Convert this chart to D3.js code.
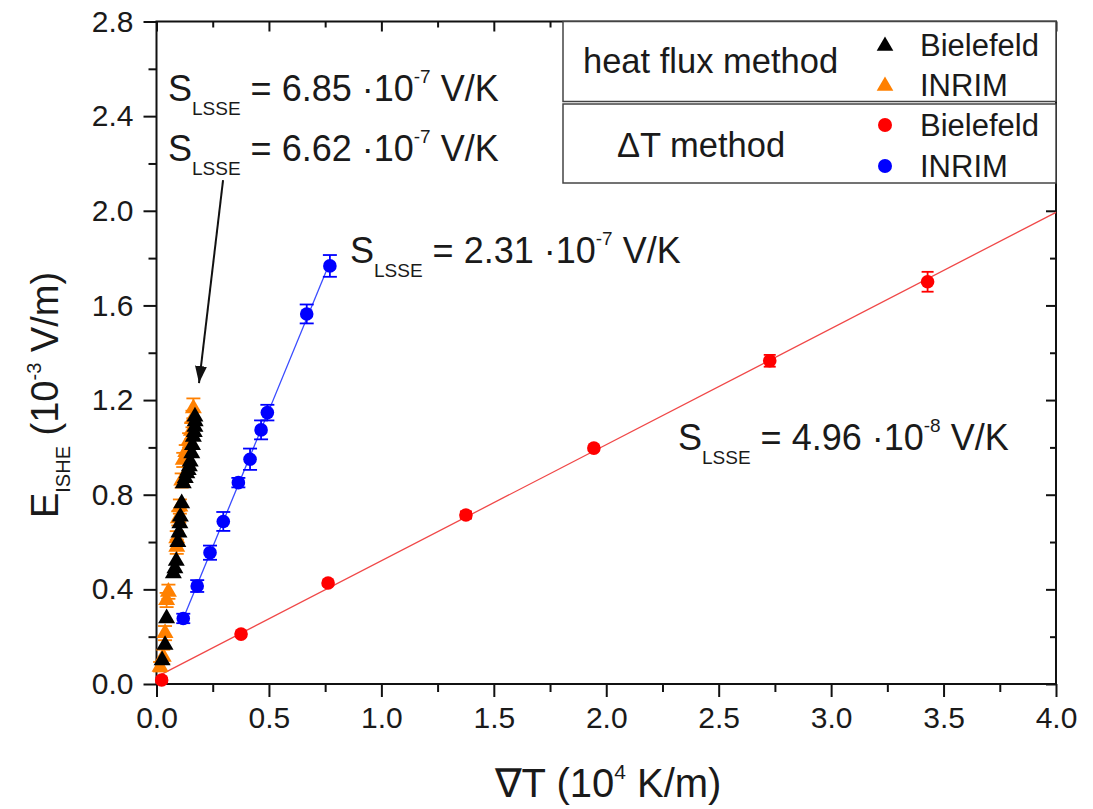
<!DOCTYPE html>
<html>
<head>
<meta charset="utf-8">
<script src="https://cdn.jsdelivr.net/npm/d3@7"></script>
<style>
  body { margin: 0; background: #fff; }
  text { font-family: "Liberation Sans", Arial, sans-serif; fill: #1a1a1a; }
</style>
</head>
<body>
<div id="main"></div>
<script>
// values
// heat flux method, Bielefeld (black triangles)
const hfBieX = [0.025, 0.038, 0.045, 0.075, 0.082, 0.088, 0.095, 0.100, 0.104, 0.106, 0.112, 0.119, 0.128, 0.135, 0.141, 0.146, 0.150, 0.157, 0.160, 0.164, 0.168, 0.171, 0.172, 0.171];
const hfBieY = [0.100, 0.165, 0.278, 0.468, 0.489, 0.520, 0.600, 0.640, 0.679, 0.707, 0.764, 0.848, 0.870, 0.890, 0.904, 0.920, 0.940, 0.975, 1.010, 1.045, 1.065, 1.087, 1.110, 1.130];
// heat flux method, INRIM (orange triangles)
const hfInrX = [0.016, 0.030, 0.038, 0.045, 0.053, 0.090, 0.090, 0.097, 0.104, 0.112, 0.119, 0.130, 0.145, 0.155, 0.160, 0.164];
const hfInrY = [0.073, 0.115, 0.215, 0.355, 0.390, 0.580, 0.616, 0.700, 0.750, 0.860, 0.947, 0.980, 1.030, 1.070, 1.120, 1.165];
const hfInrE = [0.02, 0.03, 0.03, 0.03, 0.03, 0.03, 0.03, 0.03, 0.03, 0.03, 0.03, 0.03, 0.03, 0.035, 0.035, 0.042];
// delta T method, Bielefeld (red)
const dtBieX = [0.023, 0.376, 0.763, 1.376, 1.945, 2.727, 3.429];
const dtBieY = [0.017, 0.211, 0.427, 0.714, 0.997, 1.366, 1.700];
const dtBieE = [0.01, 0.01, 0.01, 0.015, 0.01, 0.025, 0.042];
// delta T method, INRIM (blue)
const dtInrX = [0.119, 0.181, 0.238, 0.297, 0.364, 0.416, 0.465, 0.493, 0.668, 0.771];
const dtInrY = [0.277, 0.414, 0.555, 0.687, 0.851, 0.950, 1.074, 1.147, 1.564, 1.767];
const dtInrE = [0.02, 0.025, 0.03, 0.04, 0.02, 0.045, 0.04, 0.033, 0.04, 0.046];

const xTicks = [0, 0.5, 1.0, 1.5, 2.0, 2.5, 3.0, 3.5, 4.0];
const yTicks = [0, 0.4, 0.8, 1.2, 1.6, 2.0, 2.4, 2.8];

// size of the picture and the plot frame
const width = 1093;
const height = 809;
const pLeft = 156.5, pRight = 1056, pTop = 21.5, pBottom = 684;

const svg = d3.select('#main')
              .append('svg')
              .attr('width', width)
              .attr('height', height);

const x = d3.scaleLinear().domain([0, 4]).range([pLeft, pRight]);
const y = d3.scaleLinear().domain([0, 2.8]).range([pBottom, pTop]);

//least squares line
function fit(xs, ys){
  const mx = d3.mean(xs), my = d3.mean(ys);
  let sxy = 0, sxx = 0;
  xs.forEach((v, i) => { sxy += (v - mx) * (ys[i] - my); sxx += (v - mx) * (v - mx); });
  const b = sxy / sxx;
  return [my - b * mx, b];
}

//axes
const fmt = d3.format('.1f');
const minorX = d3.range(0.25, 4, 0.5);
const minorY = d3.range(0.2, 2.8, 0.4);

svg.append('g').attr('class', 'axis')
   .attr('transform', 'translate(0,' + pBottom + ')')
   .call(d3.axisBottom(x).tickValues(xTicks).tickFormat(fmt).tickSize(13).tickPadding(10).tickSizeOuter(0));
svg.append('g').attr('class', 'axis')
   .attr('transform', 'translate(0,' + pBottom + ')')
   .call(d3.axisBottom(x).tickValues(minorX).tickFormat('').tickSize(8).tickSizeOuter(0));
svg.append('g').attr('class', 'axis')
   .attr('transform', 'translate(' + pLeft + ',0)')
   .call(d3.axisLeft(y).tickValues(yTicks).tickFormat(fmt).tickSize(13).tickPadding(10).tickSizeOuter(0));
svg.append('g').attr('class', 'axis')
   .attr('transform', 'translate(' + pLeft + ',0)')
   .call(d3.axisLeft(y).tickValues(minorY).tickFormat('').tickSize(8).tickSizeOuter(0));
// mirrored inward ticks
svg.append('g').attr('class', 'axis')
   .attr('transform', 'translate(' + pRight + ',0)')
   .call(d3.axisRight(y).tickValues(yTicks).tickFormat('').tickSize(-10).tickSizeOuter(0));
svg.append('g').attr('class', 'axis')
   .attr('transform', 'translate(' + pRight + ',0)')
   .call(d3.axisRight(y).tickValues(minorY).tickFormat('').tickSize(-6).tickSizeOuter(0));
svg.append('g').attr('class', 'axis')
   .attr('transform', 'translate(0,' + pTop + ')')
   .call(d3.axisTop(x).tickValues(xTicks).tickFormat('').tickSize(-10).tickSizeOuter(0));
svg.append('g').attr('class', 'axis')
   .attr('transform', 'translate(0,' + pTop + ')')
   .call(d3.axisTop(x).tickValues(minorX).tickFormat('').tickSize(-6).tickSizeOuter(0));

svg.selectAll('.axis .domain').remove();
svg.selectAll('.axis line').attr('stroke', '#111').attr('stroke-width', 2);
svg.selectAll('.axis text').style('font-size', '30px').style('font-family', '"Liberation Sans", Arial, sans-serif').attr('fill', '#1a1a1a');

//frame
svg.append('rect')
   .attr('x', pLeft).attr('y', pTop)
   .attr('width', pRight - pLeft).attr('height', pBottom - pTop)
   .attr('fill', 'none').attr('stroke', '#111').attr('stroke-width', 2);

//rich text helper: parts are [string, 0 normal / 1 sub / 2 sup]
function rich(g, px, py, parts, size, small, subDy, supDy){
  const t = g.append('text').attr('x', px).attr('y', py).style('font-size', size + 'px');
  let shift = 0;
  parts.forEach(p => {
    const want = p[1] === 1 ? subDy : (p[1] === 2 ? -supDy : 0);
    t.append('tspan')
     .attr('dy', want - shift)
     .style('font-size', (p[1] ? small : size) + 'px')
     .text(p[0]);
    shift = want;
  });
  return t;
}

//fit lines
const plot = svg.append('g');
const redFit = fit(dtBieX, dtBieY);
const blueFit = fit(dtInrX, dtInrY);
const line = d3.line().x(d => x(d[0])).y(d => y(d[1]));

plot.append('path')
    .attr('d', line([0, 4].map(v => [v, redFit[0] + redFit[1] * v])))
    .attr('stroke', '#f04848').attr('stroke-width', 1.3).attr('fill', 'none');
plot.append('path')
    .attr('d', line(d3.extent(dtInrX).map(v => [v, blueFit[0] + blueFit[1] * v])))
    .attr('stroke', '#3a4cff').attr('stroke-width', 1.3).attr('fill', 'none');

//error bars
function errBars(xs, ys, es, color, cap){
  const g = plot.append('g').attr('stroke', color).attr('stroke-width', 1.8);
  xs.forEach((v, i) => {
    const cx = x(v), y1 = y(ys[i] + es[i]), y2 = y(ys[i] - es[i]);
    g.append('line').attr('x1', cx).attr('x2', cx).attr('y1', y1).attr('y2', y2);
    g.append('line').attr('x1', cx - cap).attr('x2', cx + cap).attr('y1', y1).attr('y2', y1);
    g.append('line').attr('x1', cx - cap).attr('x2', cx + cap).attr('y1', y2).attr('y2', y2);
  });
}

const tri = d3.symbol().type(d3.symbolTriangle);

//orange triangles
errBars(hfInrX, hfInrY, hfInrE, '#ff8000', 7);
plot.append('g').selectAll('path').data(hfInrX).enter()
    .append('path')
    .attr('d', tri.size(125)())
    .attr('transform', (d, i) => 'translate(' + x(d) + ',' + y(hfInrY[i]) + ')')
    .attr('fill', '#ff8000');

//black triangles
plot.append('g').selectAll('path').data(hfBieX).enter()
    .append('path')
    .attr('d', tri.size(125)())
    .attr('transform', (d, i) => 'translate(' + x(d) + ',' + y(hfBieY[i]) + ')')
    .attr('fill', '#000');

//red dots
errBars(dtBieX, dtBieY, dtBieE, '#ff0000', 6);
plot.append('g').selectAll('circle').data(dtBieX).enter()
    .append('circle')
    .attr('cx', d => x(d))
    .attr('cy', (d, i) => y(dtBieY[i]))
    .attr('r', 6.8)
    .attr('fill', '#ff0000');

//blue dots
errBars(dtInrX, dtInrY, dtInrE, '#0000ff', 7);
plot.append('g').selectAll('circle').data(dtInrX).enter()
    .append('circle')
    .attr('cx', d => x(d))
    .attr('cy', (d, i) => y(dtInrY[i]))
    .attr('r', 6.8)
    .attr('fill', '#0000ff');

//arrow to the heat flux data
svg.append('defs').append('marker')
   .attr('id', 'head').attr('viewBox', '0 0 10 10')
   .attr('refX', 10).attr('refY', 5)
   .attr('markerWidth', 17).attr('markerHeight', 12)
   .attr('markerUnits', 'userSpaceOnUse')
   .attr('orient', 'auto')
   .attr('preserveAspectRatio', 'none')
   .append('path').attr('d', 'M0,0 L10,5 L0,10 Z').attr('fill', '#111');
svg.append('line')
   .attr('x1', x(0.296)).attr('y1', y(2.13))
   .attr('x2', x(0.189)).attr('y2', y(1.272))
   .attr('stroke', '#111').attr('stroke-width', 2)
   .attr('marker-end', 'url(#head)');

//annotations
const notes = svg.append('g');
rich(notes, 168, 101, [['S', 0], ['LSSE', 1], [' = 6.85 \u00B710', 0], ['-7', 2], [' V/K', 0]], 36, 19, 14, 18);
rich(notes, 168, 161, [['S', 0], ['LSSE', 1], [' = 6.62 \u00B710', 0], ['-7', 2], [' V/K', 0]], 36, 19, 14, 18);
rich(notes, 350, 263, [['S', 0], ['LSSE', 1], [' = 2.31 \u00B710', 0], ['-7', 2], [' V/K', 0]], 36, 19, 14, 18);
rich(notes, 678, 450, [['S', 0], ['LSSE', 1], [' = 4.96 \u00B710', 0], ['-8', 2], [' V/K', 0]], 36, 19, 14, 18);

//axis titles
rich(svg, 608, 797, [['\u2207T (10', 0], ['4', 2], [' K/m)', 0]], 40, 21, 0, 18)
   .attr('text-anchor', 'middle');
const yl = svg.append('g').attr('transform', 'translate(58,395) rotate(-90)');
rich(yl, 0, 0, [['E', 0], ['ISHE', 1], [' (10', 0], ['-3', 2], [' V/m)', 0]], 38, 20, 12, 17)
   .attr('text-anchor', 'middle');

//legend
const legend = svg.append('g');
legend.append('rect').attr('x', 563).attr('y', pTop).attr('width', pRight - 563).attr('height', 80)
      .attr('fill', '#fff').attr('stroke', '#444').attr('stroke-width', 1.5);
legend.append('rect').attr('x', 563).attr('y', 104).attr('width', pRight - 563).attr('height', 79)
      .attr('fill', '#fff').attr('stroke', '#444').attr('stroke-width', 1.5);
legend.append('text').attr('x', 583).attr('y', 73).style('font-size', '34.5px').text('heat flux method');
legend.append('text').attr('x', 617).attr('y', 157).style('font-size', '34.5px').text('\u0394T method');

const legRows = [
  {label: 'Bielefeld', color: '#000', shape: 'tri', y: 45},
  {label: 'INRIM', color: '#ff8000', shape: 'tri', y: 85},
  {label: 'Bielefeld', color: '#ff0000', shape: 'dot', y: 125},
  {label: 'INRIM', color: '#0000ff', shape: 'dot', y: 166}
];
legRows.forEach(r => {
  if (r.shape === 'tri') {
    legend.append('path').attr('d', tri.size(120)())
          .attr('transform', 'translate(885,' + (r.y + 1) + ')').attr('fill', r.color);
  } else {
    legend.append('circle').attr('cx', 885).attr('cy', r.y).attr('r', 7).attr('fill', r.color);
  }
  legend.append('text').attr('x', 920).attr('y', r.y + 11).style('font-size', '31px').text(r.label);
});
</script>
</body>
</html>
